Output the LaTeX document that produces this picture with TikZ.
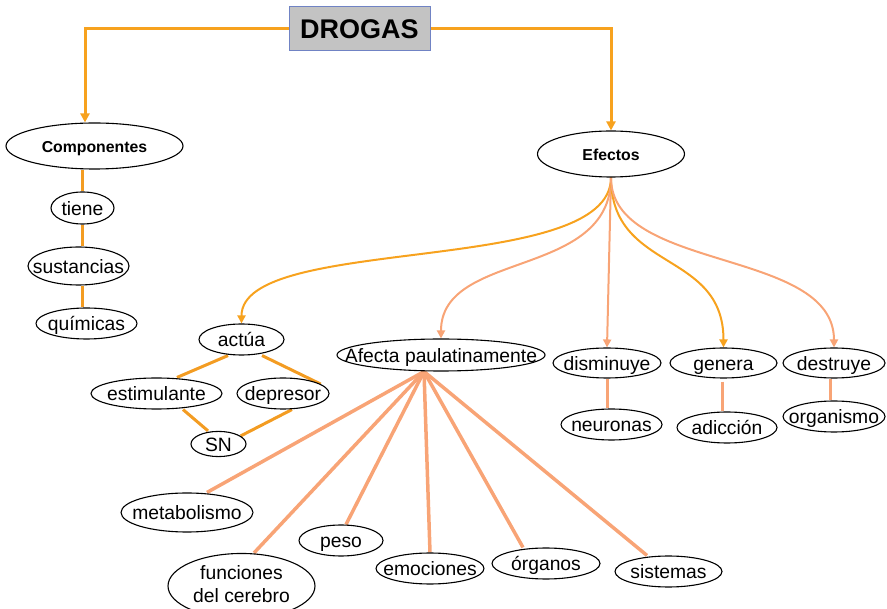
\documentclass[tikz,border=0pt]{standalone}
\usepackage{fontspec}
\setmainfont{Liberation Sans}
\usepackage{xcolor}
\usetikzlibrary{shapes.geometric, arrows.meta, backgrounds}
\definecolor{drogaorange}{HTML}{F7A21E}
\definecolor{chainorange}{HTML}{F39C22}
\definecolor{spokesalmon}{HTML}{F8A476}
\definecolor{boxgray}{HTML}{C3C3C3}
\definecolor{boxblue}{HTML}{7083C4}
\tikzset{
  bubble/.style={ellipse, draw, line width=1.1pt, fill=white, inner sep=0pt,
    font=\fontsize{19.3}{23}\selectfont, text height=13.8pt, text depth=4pt,
    execute at begin node={\setbox0=\hbox\bgroup},
    execute at end node={\egroup\hbox to 0pt{\hss\lower2.5pt\box0\hss}}},
  topic/.style={bubble, font=\bfseries\fontsize{15.8}{19}\selectfont, text height=11.3pt, text depth=3.3pt},
  link/.style={line width=3pt, chainorange},
  spoke/.style={line width=3.5pt, spokesalmon},
  curvelink/.style={line width=2pt, -{Triangle[length=8pt,width=8pt]}},
}

\begin{document}
\begin{tikzpicture}[x=1pt,y=-1pt]
      \useasboundingbox (0,0) rectangle (887,609);
      \node[draw=boxblue, fill=boxgray, line width=1pt, minimum width=141pt, minimum height=44pt, inner sep=0pt,
        font=\bfseries\fontsize{27}{30}\selectfont] (drogas) at (359.5,29) {DROGAS};
      % left branch
      \node[topic, minimum width=177pt, minimum height=46pt] (comp) at (94.5,146) {Componentes};
      \node[bubble, minimum width=63pt, minimum height=32pt] (tiene) at (82.5,208) {tiene};
      \node[bubble, minimum width=101pt, minimum height=38pt] (sust) at (78.5,266) {sustancias};
      \node[bubble, minimum width=101pt, minimum height=31pt] (quim) at (86.5,323.5) {químicas};
      % right branch
      \node[topic, minimum width=147pt, minimum height=46pt] (efec) at (611,154) {Efectos};
      \node[bubble, minimum width=85pt, minimum height=31pt] (actua) at (241.5,339.5) {actúa};
      \node[bubble, minimum width=131pt, minimum height=31pt] (estim) at (156.5,393.5) {estimulante};
      \node[bubble, minimum width=92pt, minimum height=31pt] (depr) at (283,393.5) {depresor};
      \node[bubble, minimum width=55pt, minimum height=22pt] (sn) at (218.5,444) {SN};
      \node[bubble, minimum width=208pt, minimum height=32pt] (afec) at (441,355) {Afecta paulatinamente};
      \node[bubble, minimum width=108pt, minimum height=30pt] (dism) at (607,363) {disminuye};
      \node[bubble, minimum width=107pt, minimum height=30pt] (gen) at (723.5,363) {genera};
      \node[bubble, minimum width=102pt, minimum height=30pt] (dest) at (834,363) {destruye};
      \node[bubble, minimum width=101pt, minimum height=31pt] (neur) at (611.5,424.5) {neuronas};
      \node[bubble, minimum width=100pt, minimum height=31pt] (adic) at (727,427.5) {adicción};
      \node[bubble, minimum width=102pt, minimum height=31pt] (organismo) at (834,416.5) {organismo};
      % what it affects
      \node[bubble, minimum width=132pt, minimum height=39pt] (meta) at (187,512.5) {metabolismo};
      \node[bubble, minimum width=147pt, minimum height=56pt, text height={}, text depth={}] (func) at (241.5,586)
        {\begin{tabular}{@{}c@{}}funciones\\del cerebro\end{tabular}};
      \node[bubble, minimum width=84pt, minimum height=31pt] (peso) at (341,540.5) {peso};
      \node[bubble, minimum width=108pt, minimum height=31pt] (emoc) at (430,568.5) {emociones};
      \node[bubble, minimum width=108pt, minimum height=31pt] (organos) at (546,563.5) {órganos};
      \node[bubble, minimum width=107pt, minimum height=31pt] (sist) at (668.5,571.5) {sistemas};

      \begin{scope}[on background layer]
      \draw[line width=3pt, drogaorange, -{Triangle[length=9pt,width=9pt]}](drogas.west) -| ([xshift=-9.5pt]comp.north);
      \draw[line width=3pt, drogaorange, -{Triangle[length=9pt,width=9pt]}](drogas.east) -| (efec.north);
      \draw[link](tiene.north) -- (tiene.north |- comp.south);
      \draw[link](tiene.south) -- (tiene.south |- sust.north);
      \draw[link](tiene.south |- sust.south) -- (tiene.south |- quim.north);
      \draw[link]([xshift=-13.5pt]actua.south) -- ([xshift=20.5pt]estim.north);
      \draw[link]([xshift=20.5pt]actua.south) -- (depr.14);
      \draw[link]([xshift=26.5pt]estim.south) -- ([xshift=-10.5pt]sn.north);
      \draw[link]([xshift=9pt]depr.south) -- (sn.20);
      \draw[link, spokesalmon]([xshift=0.3pt]dism.south) -- ([xshift=0.3pt]dism.south |- neur.north);
      \draw[link, spokesalmon]([xshift=-1.5pt,yshift=-3pt]gen.south) -- ([xshift=-1.5pt]gen.south |- adic.north);
      \draw[link, spokesalmon]([xshift=-4pt]dest.south) -- ([xshift=-4pt]dest.south |- organismo.north);
      % from Efectos
      \draw[curvelink, drogaorange](efec.south) .. controls +(0,100) and +(0,-90) .. (actua.north);
      \draw[curvelink, spokesalmon](efec.south) .. controls +(0,102) and +(0,-89) .. (afec.north);
      \draw[curvelink, spokesalmon](efec.south) -- (dism.north);
      \draw[curvelink, drogaorange](efec.south) .. controls +(0,95) and +(0,-98) .. (gen.north);
      \draw[curvelink, spokesalmon](efec.south) .. controls +(0,95) and +(0,-100) .. (dest.north);
      % from Afecta paulatinamente
      \coordinate (hub) at ([xshift=-17pt]afec.south);
      \draw[spoke](hub) -- ([xshift=20pt]meta.north);
      \draw[spoke](hub) -- ([xshift=12.5pt]func.north);
      \draw[spoke](hub) -- ([xshift=5pt]peso.north);
      \draw[spoke](hub) -- (emoc.north);
      \draw[spoke](hub) -- ([xshift=-23pt]organos.north);
      \draw[spoke](hub) -- ([xshift=-21.5pt]sist.north);
      \end{scope}
\end{tikzpicture}
\end{document}
